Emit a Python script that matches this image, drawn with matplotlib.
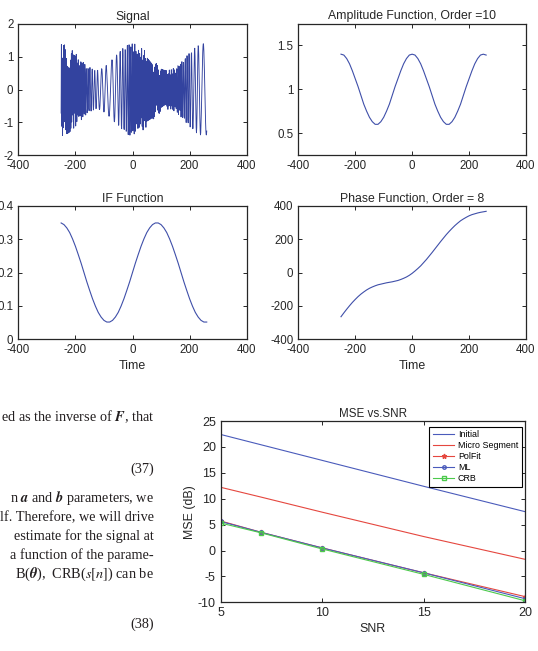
import numpy as np
import matplotlib.pyplot as plt
from matplotlib.ticker import FuncFormatter

plt.rcParams["font.family"] = ["Liberation Sans", "DejaVu Sans"]
plt.rcParams["axes.unicode_minus"] = False
plt.rcParams["mathtext.fontset"] = "stix"

# Upper panels, one reading every 10 samples
time_grid = list(range(-250, 261, 10))
amplitude = [1.40, 1.39, 1.35, 1.29, 1.21, 1.12, 1.03, 0.93, 0.83, 0.75, 0.68, 0.63, 0.60,
             0.60, 0.63, 0.68, 0.75, 0.83, 0.93, 1.03, 1.12, 1.21, 1.29, 1.35, 1.39, 1.40,
             1.39, 1.35, 1.29, 1.21, 1.12, 1.03, 0.93, 0.83, 0.75, 0.68, 0.63, 0.60, 0.60,
             0.63, 0.68, 0.75, 0.83, 0.93, 1.03, 1.12, 1.21, 1.29, 1.35, 1.39, 1.40, 1.39]
inst_freq = [0.349, 0.344, 0.334, 0.320, 0.301, 0.279, 0.254, 0.228, 0.200, 0.172, 0.146,
             0.121, 0.099, 0.080, 0.066, 0.056, 0.051, 0.051, 0.056, 0.066, 0.080, 0.099,
             0.121, 0.146, 0.172, 0.200, 0.228, 0.254, 0.279, 0.301, 0.320, 0.334, 0.344,
             0.349, 0.349, 0.344, 0.334, 0.320, 0.301, 0.279, 0.254, 0.228, 0.200, 0.172,
             0.146, 0.121, 0.099, 0.080, 0.066, 0.056, 0.051, 0.051]
phase = [-266, -243, -221, -200, -180, -162, -145, -130, -117, -105, -95, -87, -80, -74,
         -70, -66, -62, -59, -56, -52, -48, -42, -35, -27, -17, -5, 9, 24, 40, 59, 78, 99,
         120, 142, 164, 186, 207, 228, 247, 265, 282, 297, 311, 322, 332, 341, 348, 353,
         358, 362, 365, 368]

# MSE vs. SNR panel
snr = [5, 7, 10, 15, 20]
mse_initial = [22.4, 20.4, 17.4, 12.4, 7.5]
mse_micro = [12.2, 10.3, 7.4, 2.7, -1.7]
mse_polfit = [5.7, 3.5, 0.5, -4.3, -8.9]
mse_ml = [5.6, 3.5, 0.5, -4.3, -9.3]
mse_crb = [5.3, 3.4, 0.3, -4.6, -9.7]

page_lines = [
    "ed as the inverse of $\\mathbfit{F}$, that",
    "(37)",
    "n $\\mathbfit{a}$ and $\\mathbfit{b}$ parameters, we",
    "lf. Therefore, we will drive",
    "estimate for the signal at",
    "a function of the parame-",
    "B($\\mathbfit{\\theta}$),  CRB($s[n]$) can be",
    "(38)",
]

W, H = 538, 651
ink = "#262626"
line_blue = "#3f4fa9"


def box(l, t, r, b):
    # pixel box -> figure fraction
    return [l / W, 1 - b / H, (r - l) / W, (b - t) / H]


def style(ax, xlim, ylim, xticks, yticks, fs=8.3):
    ax.set_xlim(*xlim)
    ax.set_ylim(*ylim)
    ax.set_xticks(xticks)
    ax.set_yticks(yticks)
    fmt = FuncFormatter(lambda v, p: f"{v:g}")
    ax.xaxis.set_major_formatter(fmt)
    ax.yaxis.set_major_formatter(fmt)
    ax.tick_params(direction="in", top=True, right=True, length=3, width=0.7,
                   labelsize=fs, colors=ink, labelcolor=ink)
    for s in ax.spines.values():
        s.set_color(ink)
        s.set_linewidth(0.9)


fig = plt.figure(figsize=(W / 100, H / 100), dpi=100)

n = np.arange(-250, 261)
signal = np.interp(n, time_grid, amplitude) * np.cos(np.interp(n, time_grid, phase))

ax1 = fig.add_axes(box(18.3, 24, 246.7, 155.3))
ax1.plot(n, signal, color="#33439f", lw=0.65)
style(ax1, (-400, 400), (-2, 2), [-400, -200, 0, 200, 400], [-2, -1, 0, 1, 2])
ax1.set_title("Signal", fontsize=8.8, color=ink, pad=3)

ax2 = fig.add_axes(box(298.3, 23.5, 526, 155))
ax2.plot(time_grid, amplitude, color=line_blue, lw=0.8)
style(ax2, (-400, 400), (0.25, 1.75), [-400, -200, 0, 200, 400], [0.5, 1, 1.5])
ax2.set_title("Amplitude Function, Order =10", fontsize=8.8, color=ink, pad=3)

ax3 = fig.add_axes(box(18.3, 206, 246.7, 339))
ax3.plot(time_grid, inst_freq, color=line_blue, lw=0.8)
style(ax3, (-400, 400), (0, 0.4), [-400, -200, 0, 200, 400], [0, 0.1, 0.2, 0.3, 0.4])
ax3.set_title("IF Function", fontsize=8.8, color=ink, pad=3)
ax3.set_xlabel("Time", fontsize=8.9, color=ink, labelpad=3)

ax4 = fig.add_axes(box(298.3, 206, 526, 339))
ax4.plot(time_grid, phase, color=line_blue, lw=0.8)
style(ax4, (-400, 400), (-400, 400), [-400, -200, 0, 200, 400], [-400, -200, 0, 200, 400])
ax4.set_title("Phase Function, Order = 8", fontsize=8.8, color=ink, pad=3)
ax4.set_xlabel("Time", fontsize=8.9, color=ink, labelpad=3)

# bottom right: MSE vs SNR
ax5 = fig.add_axes(box(220.7, 421, 525, 602.3))
ax5.plot(snr, mse_initial, color="#4a5bbb", lw=0.8, label="Initial")
ax5.plot(snr, mse_micro, color="#e5473f", lw=0.8, label="Micro Segment")
ax5.plot(snr, mse_polfit, color="#e5473f", lw=0.8, marker="*", ms=3.5, label="PolFit")
ax5.plot(snr, mse_ml, color="#4a5bbb", lw=0.8, marker="o", ms=2.5, mfc="none", label="ML")
ax5.plot(snr, mse_crb, color="#4cc94c", lw=0.8, marker="s", ms=2.5, mfc="none", label="CRB")
style(ax5, (5, 20), (-10, 25), [5, 10, 15, 20], list(range(-10, 26, 5)), fs=9)
ax5.set_title("MSE vs.SNR", fontsize=8.4, color=ink, pad=3)
ax5.set_xlabel("SNR", fontsize=8.9, color=ink, labelpad=3)
ax5.set_ylabel("MSE (dB)", fontsize=8.9, color=ink, labelpad=1)
leg = ax5.legend(loc="upper right", bbox_to_anchor=(521.7 / W, 1 - 426.7 / H),
                 bbox_transform=fig.transFigure, borderaxespad=0, fontsize=6.4,
                 handlelength=2.4, labelspacing=0.22, borderpad=0.4, fancybox=False,
                 framealpha=1, edgecolor="black", handletextpad=0.4)
leg.get_frame().set_linewidth(0.8)

# page text to the left of the lower chart
baselines = [420.7, 472.7, 501.7, 520.7, 540, 559, 578.3, 628.3]
for txt, yb in zip(page_lines, baselines):
    fig.text(154 / W, 1 - yb / H, txt, ha="right", va="baseline", fontsize=10.3,
             family="Liberation Serif", color="#231f20")

fig.savefig("out.png", dpi=100)
